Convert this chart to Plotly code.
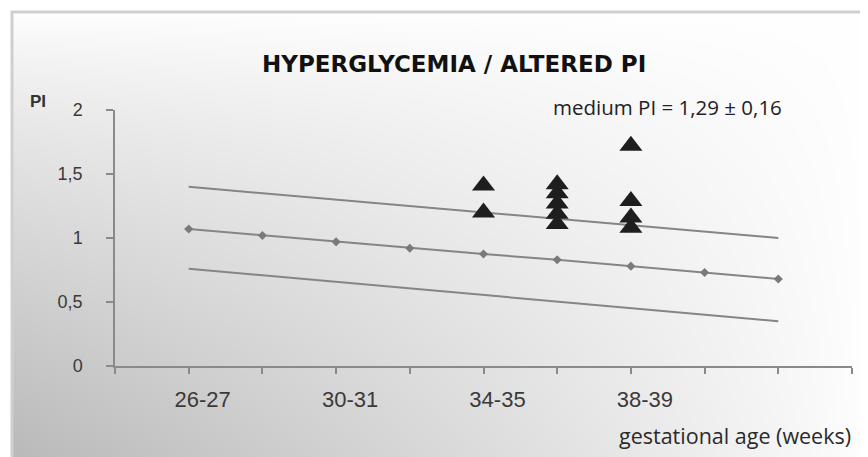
import base64
import struct
import zlib

import numpy as np
import plotly.graph_objects as go

# ---------------- data ----------------
x_positions = [1, 2, 3, 4, 5, 6, 7, 8, 9]
tick_positions = [0, 1, 2, 3, 4, 5, 6, 7, 8, 9, 10]
tick_labels = ["", "26-27", "", "30-31", "", "34-35", "", "38-39", "", "", ""]

median_pi = [1.07, 1.02, 0.97, 0.92, 0.875, 0.83, 0.78, 0.73, 0.68]
upper_x = [1, 9]
upper_pi = [1.40, 1.00]
lower_x = [1, 9]
lower_pi = [0.76, 0.35]

patients_x = [5, 5, 6, 6, 6, 6, 6, 7, 7, 7, 7]
patients_pi = [1.41, 1.20, 1.42, 1.35, 1.27, 1.19, 1.11, 1.72, 1.29, 1.16, 1.08]

title_text = "HYPERGLYCEMIA / ALTERED PI"
stat_text = "medium PI = 1,29 ± 0,16"
x_title = "gestational age (weeks)"
y_title = "PI"


# ---------------- background gradient (decorative) ----------------
def gray_png_uri(arr):
    h, w = arr.shape
    raw = b"".join(b"\x00" + arr[i].tobytes() for i in range(h))

    def chunk(tag, data):
        c = struct.pack(">I", len(data)) + tag + data
        return c + struct.pack(">I", zlib.crc32(tag + data) & 0xFFFFFFFF)

    png = b"\x89PNG\r\n\x1a\n"
    png += chunk(b"IHDR", struct.pack(">IIBBBBB", w, h, 8, 0, 0, 0, 0))
    png += chunk(b"IDAT", zlib.compress(raw, 9))
    png += chunk(b"IEND", b"")
    return "data:image/png;base64," + base64.b64encode(png).decode()


gw, gh = 214, 111
u = np.linspace(0, 1, gw)[None, :]
v = np.linspace(0, 1, gh)[:, None]
dark = 0.27 * (1 - u) ** 0.85 * v ** 0.8
bg = np.clip(255 * (1 - dark), 0, 255).astype(np.uint8)
bg_uri = gray_png_uri(bg)

# The page body has an 8px margin; window coords = figure coords + 8.
OFF = 8
W, H = 868 - OFF, 457 - OFF
# plot area in window pixels: x 115..852, y 110..366
PL, PR, PT, PB = 115, 852, 110, 366


def px(xp):
    return (xp - PL) / (PR - PL)


def py(yp):
    return (PB - yp) / (PB - PT)


fig = go.Figure()

line_col = "#858585"
fig.add_trace(go.Scatter(x=upper_x, y=upper_pi, mode="lines",
                         line=dict(color=line_col, width=2), showlegend=False,
                         hoverinfo="skip"))
fig.add_trace(go.Scatter(x=lower_x, y=lower_pi, mode="lines",
                         line=dict(color=line_col, width=2), showlegend=False,
                         hoverinfo="skip"))
fig.add_trace(go.Scatter(x=x_positions, y=median_pi, mode="lines+markers",
                         line=dict(color=line_col, width=2),
                         marker=dict(symbol="diamond", size=7, color="#7a7a7a"),
                         showlegend=False))
fig.add_trace(go.Scatter(x=patients_x, y=patients_pi, mode="markers",
                         marker=dict(symbol="triangle-up", size=20, color="#1e1e1e"),
                         showlegend=False))

fig.add_layout_image(dict(source=bg_uri, xref="paper", yref="paper",
                          x=px(12), y=py(12), sizex=px(870) - px(12),
                          sizey=py(12) - py(460), xanchor="left", yanchor="top",
                          sizing="stretch", layer="below"))

fig.add_shape(type="rect", xref="paper", yref="paper",
              x0=px(12), x1=px(880), y0=py(470), y1=py(12),
              line=dict(color="#cfcfcf", width=3), fillcolor="rgba(0,0,0,0)",
              layer="below")

fig.add_annotation(text=f"<b>{title_text}</b>", xref="paper", yref="paper",
                   x=px(454), y=py(64), showarrow=False, xanchor="center",
                   yanchor="middle",
                   font=dict(family="DejaVu Sans", size=23, color="#111111"))
fig.add_annotation(text=stat_text, xref="paper", yref="paper",
                   x=px(667), y=py(107), showarrow=False, xanchor="center",
                   yanchor="middle",
                   font=dict(family="Open Sans", size=20.5, color="#222222"))
fig.add_annotation(text=x_title, xref="paper", yref="paper",
                   x=px(853), y=py(435), showarrow=False, xanchor="right",
                   yanchor="middle",
                   font=dict(family="Open Sans", size=21.5, color="#2a2a2a"))
fig.add_annotation(text=f"<b>{y_title}</b>", xref="paper", yref="paper",
                   x=px(38), y=py(101), showarrow=False, xanchor="center",
                   yanchor="middle",
                   font=dict(family="Liberation Sans", size=17, color="#333333"))

fig.update_layout(
    width=W, height=H,
    margin=dict(l=PL - OFF, r=868 - PR, t=PT - OFF, b=457 - PB, pad=0),
    paper_bgcolor="white",
    plot_bgcolor="rgba(0,0,0,0)",
    separators=", ",
    showlegend=False,
)
fig.update_xaxes(range=[0, 10], tickmode="array", tickvals=tick_positions,
                 ticktext=tick_labels, showgrid=False, zeroline=False,
                 showline=True, linecolor="#8a8a8a", linewidth=2,
                 ticks="outside", ticklen=6, tickcolor="#8a8a8a", tickwidth=1.5,
                 ticklabelshift=14, ticklabelstandoff=7,
                 tickfont=dict(family="Liberation Sans", size=22, color="#3a3a3a"))
fig.update_yaxes(range=[0, 2], tickmode="array", tickvals=[0, 0.5, 1, 1.5, 2],
                 ticktext=["0", "0,5", "1", "1,5", "2"], showgrid=False,
                 zeroline=False, showline=True, linecolor="#8a8a8a", linewidth=1.5,
                 ticks="outside", ticklen=7, tickcolor="#8a8a8a", tickwidth=1.5,
                 ticklabelstandoff=20,
                 tickfont=dict(family="Liberation Sans", size=18, color="#3a3a3a"))

fig.write_html("out.html")
